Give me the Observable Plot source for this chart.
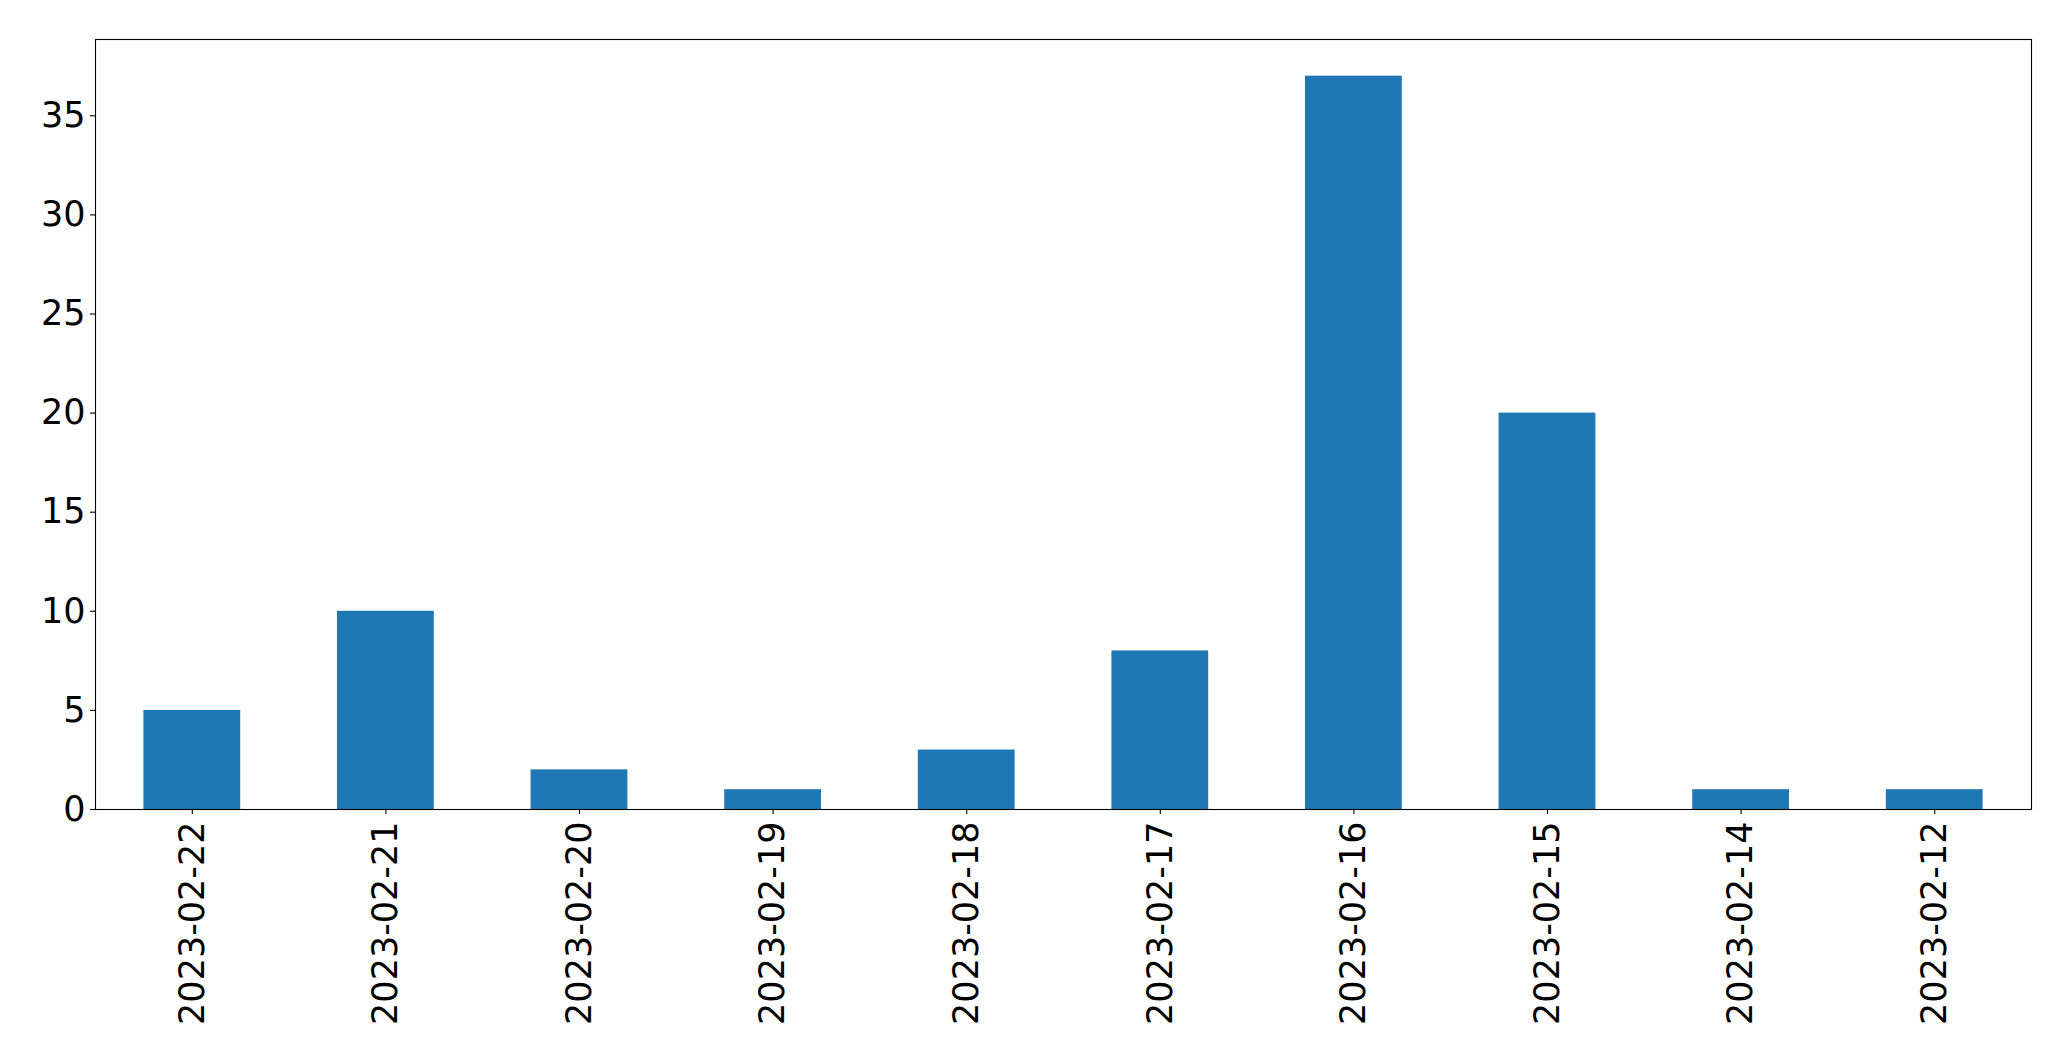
<!DOCTYPE html>
<html>
<head>
<meta charset="utf-8">
<script src="https://cdn.jsdelivr.net/npm/d3@7"></script>
<script src="https://cdn.jsdelivr.net/npm/@observablehq/plot@0.6"></script>
<style>
  html, body { margin: 0; padding: 0; background: #fff; }
  svg { display: block; }
</style>
</head>
<body>
<div id="chart"></div>
<script>
const dates = ["2023-02-22","2023-02-21","2023-02-20","2023-02-19","2023-02-18","2023-02-17","2023-02-16","2023-02-15","2023-02-14","2023-02-12"];
const counts = [5, 10, 2, 1, 3, 8, 37, 20, 1, 1];
const yTicks = [0, 5, 10, 15, 20, 25, 30, 35];

const data = dates.map((d, i) => ({date: d, count: counts[i]}));

const chart = Plot.plot({
  width: 2071,
  height: 1061,
  marginLeft: 95,
  marginRight: 40,
  marginTop: 39,
  marginBottom: 252,
  style: {fontFamily: "DejaVu Sans", fontSize: "35px", background: "#fff", color: "#000"},
  x: {domain: dates, paddingInner: 0.5, paddingOuter: 0.25, round: false, label: null},
  y: {domain: [0, Math.max(...counts) * 1.05], label: null},
  marks: [
    Plot.barY(data, {x: "date", y: "count", fill: "#1f77b4", inset: 0}),
    Plot.frame({stroke: "#000", strokeWidth: 1.1}),
    Plot.axisY({ticks: yTicks, tickSize: 5, tickPadding: 5, tickFormat: d => String(d), label: null, fontSize: 35, strokeWidth: 1.1}),
    Plot.axisX({tickSize: 5, tickPadding: 7, tickRotate: -90, label: null, fontSize: 35, strokeWidth: 1.1})
  ]
});
document.getElementById("chart").appendChild(chart);
</script>
</body>
</html>
